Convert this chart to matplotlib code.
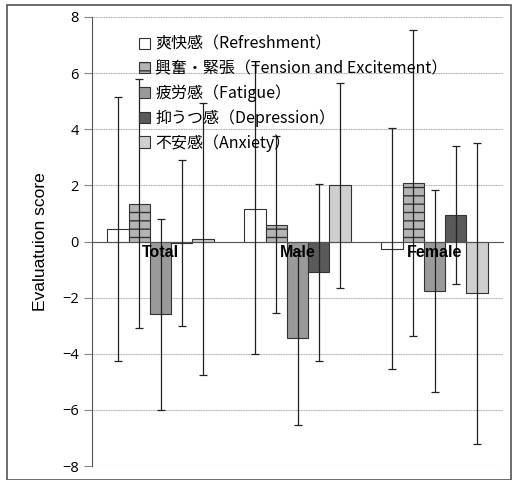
import numpy as np
import matplotlib
matplotlib.use("Agg")
import matplotlib.pyplot as plt
from matplotlib.patches import Rectangle

plt.rcParams['font.family'] = ['Noto Sans CJK JP', 'DejaVu Sans']

# ===================== data =====================
groups = ["Total", "Male", "Female"]
series = ["爽快感（Refreshment）", "興奮・緊張（Tension and Excitement）", "疲労感（Fatigue）",
          "抑うつ感（Depression）", "不安感（Anxiety）"]

refreshment = [0.45, 1.15, -0.25]
tension = [1.35, 0.6, 2.1]
fatigue = [-2.6, -3.45, -1.75]
depression = [-0.05, -1.1, 0.95]
anxiety = [0.1, 2.0, -1.85]

refreshment_sd = [4.7, 5.15, 4.3]
tension_sd = [4.45, 3.15, 5.45]
fatigue_sd = [3.4, 3.1, 3.6]
depression_sd = [2.95, 3.15, 2.45]
anxiety_sd = [4.85, 3.65, 5.35]

means = [refreshment, tension, fatigue, depression, anxiety]
sds = [refreshment_sd, tension_sd, fatigue_sd, depression_sd, anxiety_sd]

# ===================== style =====================
faces = ["white", "#b4b4b4", "#9a9a9a", "#5a5a5a", "#cfcfcf"]
hatches = [None, "--", None, None, None]

fig = plt.figure(figsize=(5.18, 4.8), dpi=100)
ax = fig.add_axes([92/518, 1-466/480, 411/518, 449/480])

x = np.arange(len(groups))
w = 0.155
for i in range(5):
    pos = x + (i - 2) * w
    ax.bar(pos, means[i], w, color=faces[i], edgecolor="#333333", linewidth=0.8,
           hatch=hatches[i], label=series[i], zorder=2)
    ax.errorbar(pos, means[i], yerr=sds[i], fmt="none", ecolor="#222222",
                elinewidth=0.9, capsize=3, capthick=0.9, zorder=3)

ax.set_xlim(-0.5, 2.5)
ax.set_ylim(-8, 8)
ax.set_yticks(np.arange(-8, 9, 2))
ax.yaxis.grid(True, color="#b0b0b0", linewidth=0.8, linestyle=(0, (1, 0.5)))
ax.set_axisbelow(True)

ax.spines['top'].set_visible(False)
ax.spines['right'].set_visible(False)
ax.spines['bottom'].set_position(('data', 0))
ax.spines['bottom'].set_color("#555555")
ax.spines['left'].set_color("#555555")
ax.tick_params(axis='y', length=6, color="#888888", labelsize=10.5)
ax.set_xticks([])
for lab in ax.get_yticklabels():
    lab.set_family(['Open Sans', 'DejaVu Sans'])

# group labels drawn on top of the bars
for xi, g in zip(x, groups):
    ax.text(xi, -0.12, g, ha="center", va="top", fontsize=11.5, fontweight="bold",
            family=['Liberation Sans', 'DejaVu Sans'], zorder=10)

ax.set_ylabel("Evaluatuion score", fontsize=12.5, family=['Liberation Sans Narrow', 'Liberation Sans'],
              labelpad=10)

leg = ax.legend(loc="upper left", bbox_to_anchor=(0.08, 0.99), frameon=False, fontsize=11.5,
                handlelength=0.7, handleheight=0.7, handletextpad=0.3, labelspacing=0.45)

# outer frame of the picture
fig.patches.append(Rectangle((7/518, 0), 504/518, 1-5/480, transform=fig.transFigure,
                             fill=False, edgecolor="#555555", linewidth=1.2))

fig.savefig("out.png", dpi=100)
